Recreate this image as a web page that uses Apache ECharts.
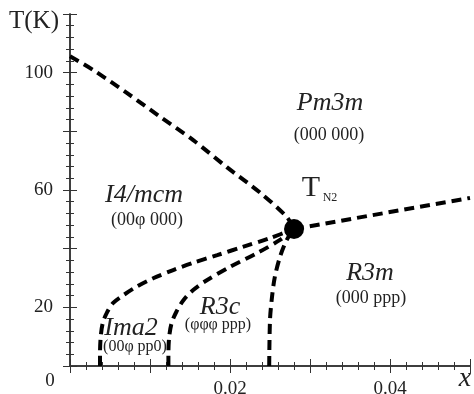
<!DOCTYPE html>
<html>
<head>
<meta charset="utf-8">
<script src="https://cdn.jsdelivr.net/npm/echarts@6/dist/echarts.min.js"></script>
<style>
  html, body { margin: 0; padding: 0; background: #fff; }
  #chart { width: 474px; height: 394px; }
</style>
</head>
<body>
<div id="chart"></div>
<script>
// phase boundaries, [x, T(K)]
const upperLine = [[0, 105.6], [0.0029, 100.9], [0.0071, 93.1], [0.0113, 84.9], [0.0154, 77.0],
  [0.0196, 67.8], [0.0238, 59.0], [0.0271, 50.8], [0.028, 46.7]];
const rightLine = [[0.028, 46.7], [0.05, 57.3]];
const ima2Line = [[0.00375, 0], [0.00375, 4], [0.00384, 10.0], [0.0041, 14.7], [0.0046, 18.1],
  [0.0054, 21.5], [0.0067, 24.2], [0.0083, 27.0], [0.0104, 29.9], [0.0129, 32.7],
  [0.0154, 35.2], [0.0184, 37.8], [0.0216, 40.6], [0.025, 43.6], [0.028, 46.7]];
const r3cLine = [[0.0123, 0], [0.0123, 4], [0.0124, 10.0], [0.0127, 14.6], [0.0133, 18.5],
  [0.0142, 22.5], [0.0154, 25.9], [0.0169, 28.9], [0.02, 33.8], [0.0234, 38.5],
  [0.02625, 43.0], [0.028, 46.7]];
const r3mLine = [[0.0249, 0], [0.025, 15.7], [0.02525, 23.5], [0.0256, 30.3], [0.02625, 37.2],
  [0.0271, 43.0], [0.028, 46.7]];
const tn2Point = [[0.028, 46.7]];

const xTickLabels = ['0.02', '0.04'];
const yTickLabels = ['20', '60', '100'];

const serif = '"Liberation Serif", "DejaVu Serif", serif';
const axisColor = '#333';

let chart = echarts.init(document.getElementById('chart'));

function dashed(data, smooth) {
  return {
    type: 'line',
    data: data,
    showSymbol: false,
    smooth: smooth,
    silent: true,
    lineStyle: { color: '#000', width: 4, type: [10, 6] }
  };
}

// shared axis look
function xAx(pos, labels) {
  return {
    type: 'value', position: pos, min: 0, max: 0.05, interval: 0.01,
    axisLine: { show: true, lineStyle: { color: axisColor, width: 1.5 } },
    axisTick: { show: true, inside: true, length: 7, lineStyle: { color: axisColor } },
    minorTick: { show: true, splitNumber: 5, length: 4, lineStyle: { color: axisColor } },
    splitLine: { show: false },
    axisLabel: {
      show: labels, margin: 14, color: '#222', fontFamily: serif, fontSize: 19,
      formatter: v => {
        let s = v.toFixed(2);
        return xTickLabels.indexOf(s) >= 0 ? s : '';
      }
    }
  };
}
function yAx(pos, labels) {
  return {
    type: 'value', position: pos, min: 0, max: 120, interval: 20,
    axisLine: { show: true, lineStyle: { color: axisColor, width: 1.5 } },
    axisTick: { show: true, inside: true, length: 7, lineStyle: { color: axisColor } },
    minorTick: { show: true, splitNumber: 5, length: 4, lineStyle: { color: axisColor } },
    splitLine: { show: false },
    axisLabel: {
      show: labels, margin: 17, color: '#222', fontFamily: serif, fontSize: 19,
      formatter: v => yTickLabels.indexOf(String(v)) >= 0 ? String(v) : ''
    }
  };
}

function txt(x, y, text, size, italic) {
  return {
    type: 'text', x: x, y: y, silent: true,
    style: {
      text: text, fill: '#222', textAlign: 'center', textVerticalAlign: 'middle',
      font: (italic ? 'italic ' : '') + size + 'px ' + serif
    }
  };
}

let option = {
  animation: false,
  grid: { left: 70, top: 14, right: 4, bottom: 28, containLabel: false, outerBoundsMode: 'none' },
  xAxis: [xAx('bottom', true), xAx('top', false)],
  yAxis: [yAx('left', true), yAx('right', false)],
  series: [
    dashed(upperLine, 0.3),
    dashed(rightLine, false),
    dashed(ima2Line, 0.3),
    dashed(r3cLine, 0.3),
    dashed(r3mLine, 0.3),
    {
      type: 'scatter', data: tn2Point, symbolSize: 20, silent: true,
      itemStyle: { color: '#000', opacity: 1 }
    }
  ],
  graphic: [
    txt(34, 21, 'T(K)', 25, false),
    txt(50, 381, '0', 19, false),
    txt(465, 379, 'x', 28, true),
    txt(330, 103, 'Pm3m', 26, true),
    txt(329, 135, '(000 000)', 18, false),
    txt(144, 195, 'I4/mcm', 26, true),
    txt(147, 220, '(00φ 000)', 18, false),
    txt(311, 188, 'T', 30, false),
    txt(330, 198, 'N2', 12, false),
    txt(370, 273, 'R3m', 26, true),
    txt(371, 298, '(000 ppp)', 18, false),
    txt(220, 307, 'R3c', 26, true),
    txt(218, 325, '(φφφ ppp)', 16, false),
    txt(131, 328, 'Ima2', 26, true),
    txt(135, 347, '(00φ pp0)', 16, false)
  ]
};

chart.setOption(option);
</script>
</body>
</html>
